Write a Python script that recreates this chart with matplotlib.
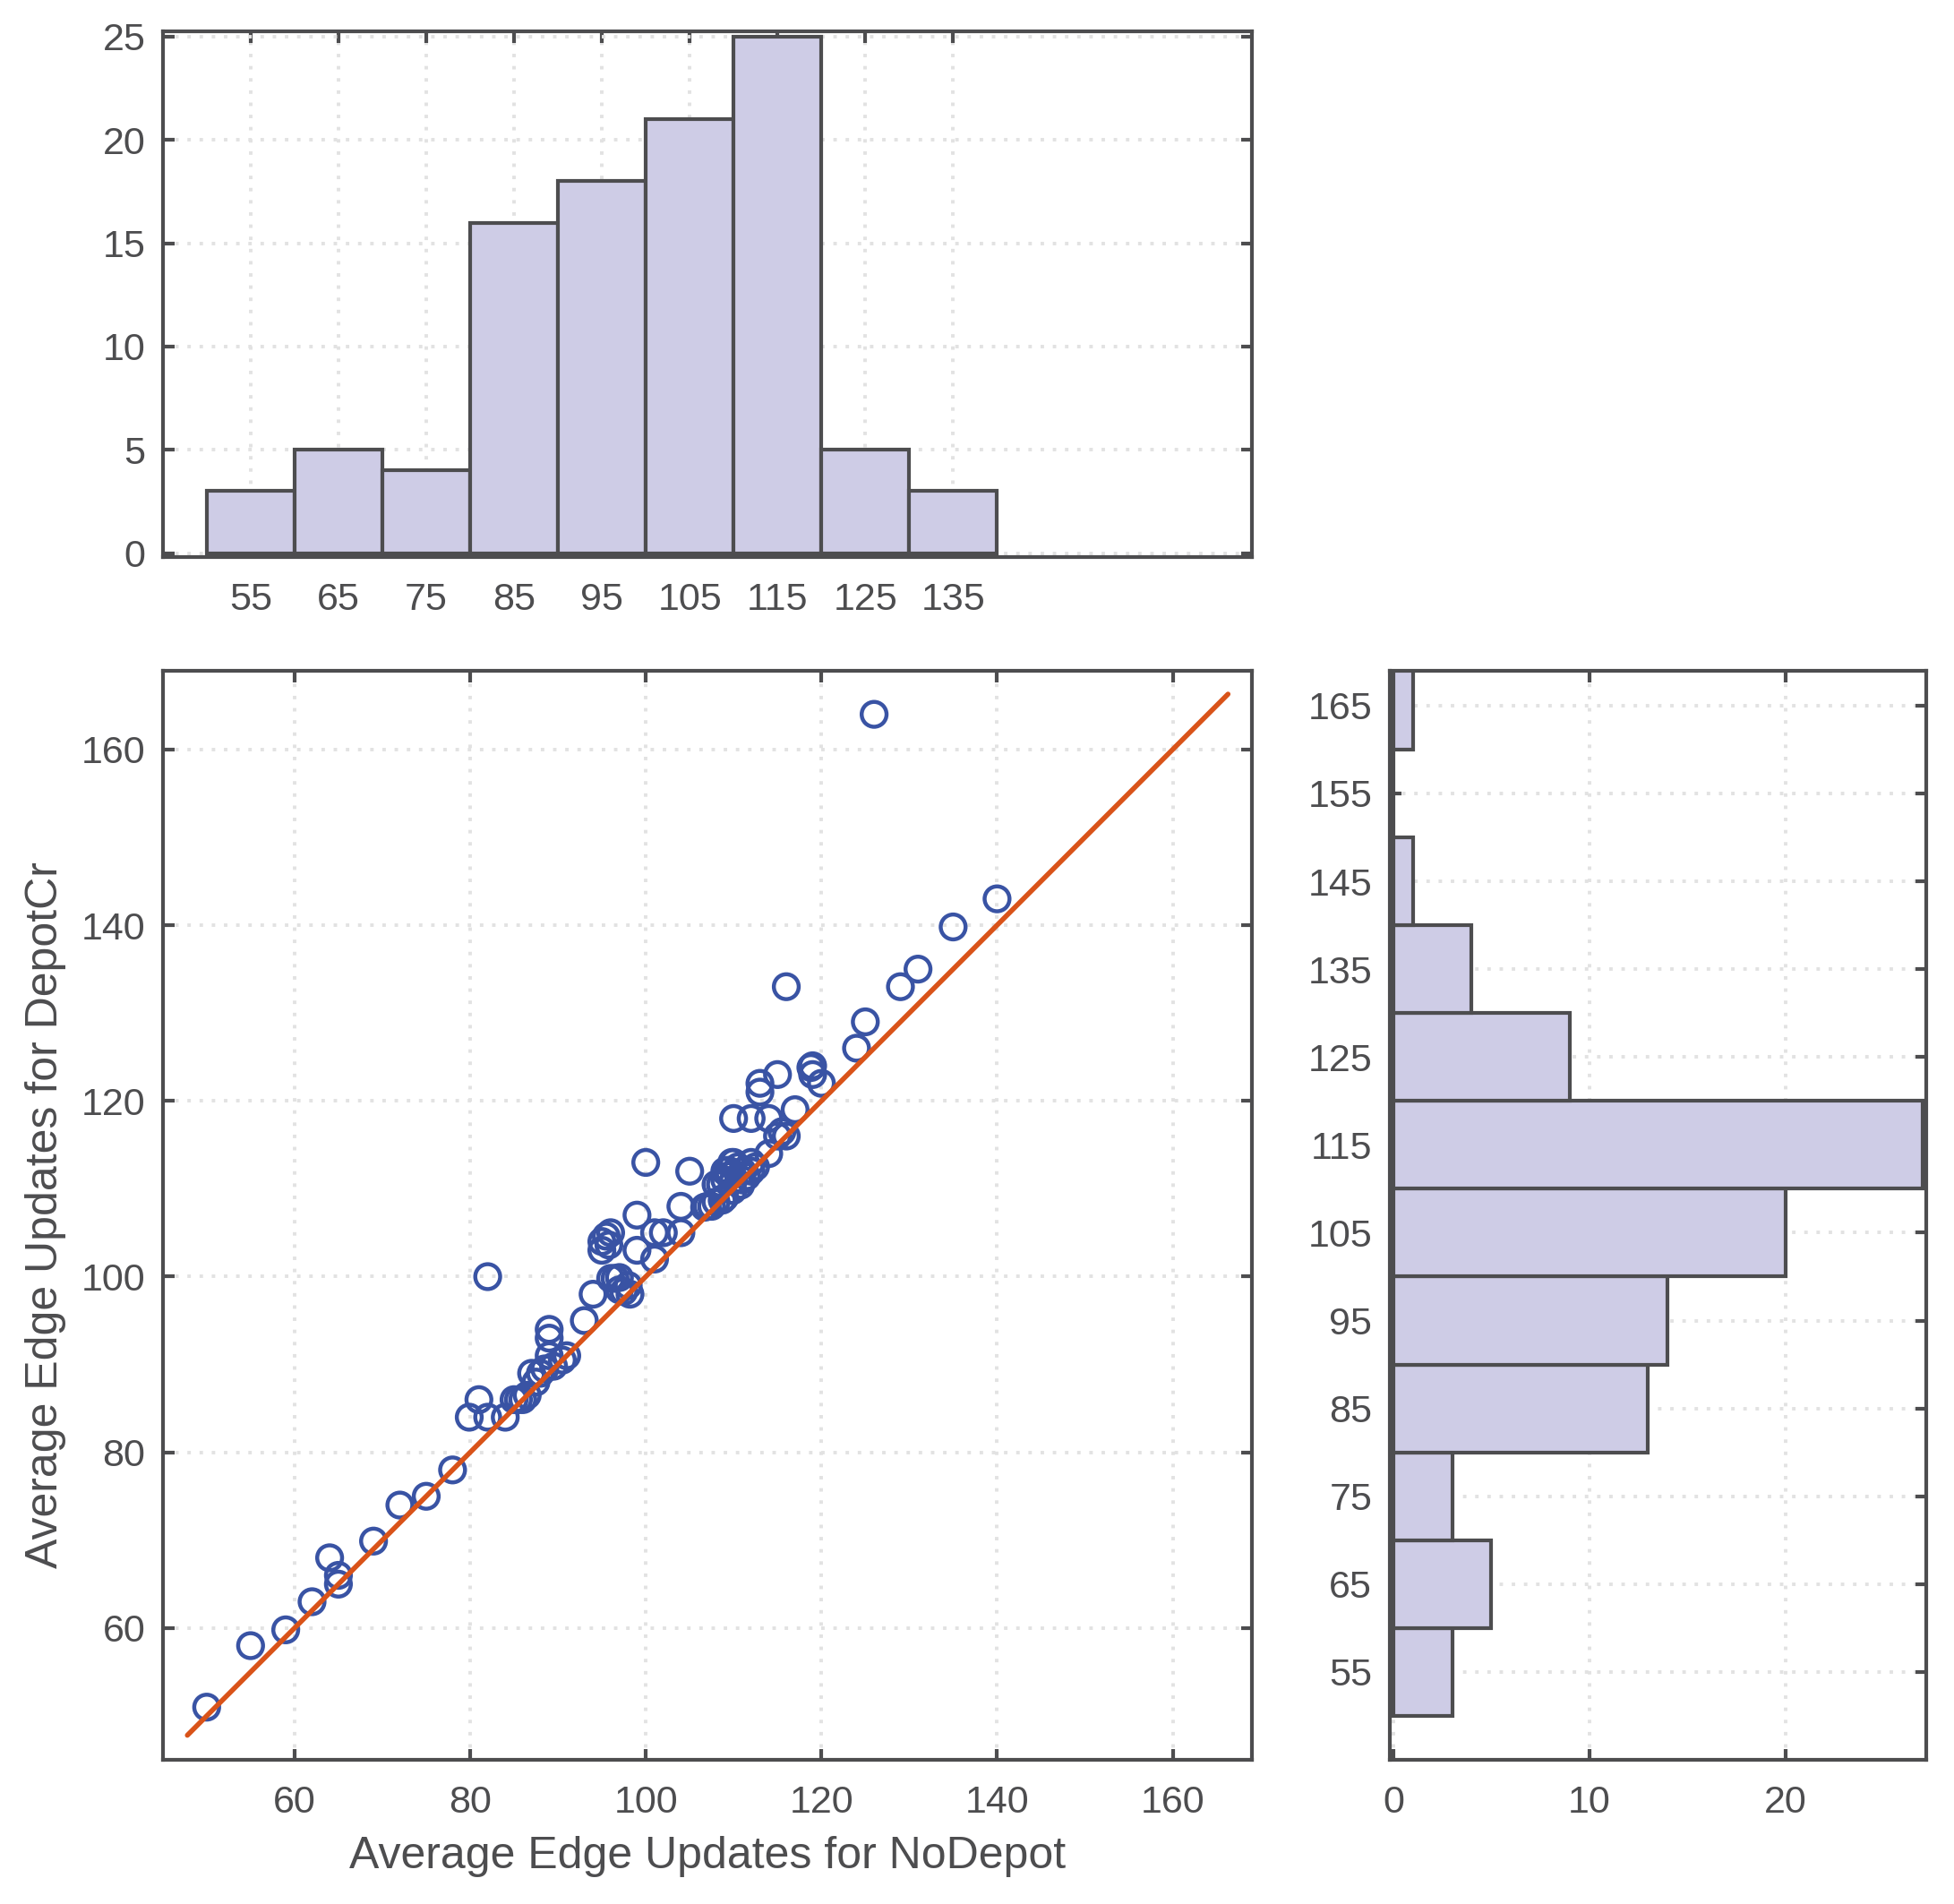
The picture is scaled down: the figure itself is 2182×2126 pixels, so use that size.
import numpy as np
import matplotlib
matplotlib.use('Agg')
import matplotlib.pyplot as plt

# ── data ────────────────────────────────────────────────
nodepot = [50, 55, 59, 62, 64, 65, 65, 69, 72, 75, 78, 79.9,
           81, 82, 82, 84, 85, 86, 86.5, 87, 87.5, 88, 88.5, 89, 89, 89, 89.5, 85.5,
           91, 93, 94, 95, 95, 95.5, 96, 96, 97, 97.5, 98, 98.2, 99, 99, 96.5, 90.5, 95.8, 97,
           100, 101, 101, 102, 104, 104, 105, 107, 107.5, 108, 108.7, 109, 109.4, 109, 108.5,
           109, 106.7, 109.9, 109.5, 108, 109.8,
           110, 110, 110, 111.5, 110.8, 111, 112, 112, 112.5, 113, 113, 114, 114, 115, 116,
           115, 116, 117, 119, 119, 115.5, 118.8, 111, 112, 110.5,
           120, 124, 125, 126, 129, 131, 135, 140]
depotcr = [51, 58, 59.8, 63, 68, 66, 65, 69.9, 74, 75, 78, 84,
           86, 84, 100, 84, 86, 86, 86.5, 89, 88, 89, 89.5, 94, 93, 91, 89.8, 86,
           91, 95, 98, 104, 103, 104.6, 105, 99.8, 99.9, 98.3, 99, 98, 107, 103, 99.8, 90.5, 103.6, 98.5,
           113, 105, 102, 105, 108, 105, 112, 108, 108, 108.5, 108.7, 112, 112.1, 109, 110.5,
           111, 107.9, 109.8, 111.5, 110.5, 113,
           118, 113, 111, 111.4, 110.4, 112, 118, 113, 112.5, 121, 122, 118, 114, 116, 116,
           123, 133, 119, 124, 123, 116.5, 123.8, 111, 112, 112.5,
           122, 126, 129, 164, 133, 135, 139.8, 143]

x_edges = [50, 60, 70, 80, 90, 100, 110, 120, 130, 140]
y_edges = [50, 60, 70, 80, 90, 100, 110, 120, 130, 140, 150, 160, 170]
x_ticks_hist = [55, 65, 75, 85, 95, 105, 115, 125, 135]
y_ticks_hist = [55, 65, 75, 85, 95, 105, 115, 125, 135, 145, 155, 165]
fit_ends = [47.8, 166.3]

# ── style ──────────────────────────────────────────────
DARK = '#4d4d4f'
BAR = '#cecce6'
BLUE = '#3953a4'
RED = '#d95319'
plt.rcParams['font.family'] = ['Liberation Sans', 'DejaVu Sans']
plt.rcParams['text.color'] = DARK
plt.rcParams['axes.labelcolor'] = DARK


def style(ax):
    for s in ax.spines.values():
        s.set_color(DARK)
        s.set_linewidth(1.5)
    ax.tick_params(direction='in', length=4.5, width=1.5, color=DARK,
                   labelcolor=DARK, labelsize=15.5, top=True, right=True)
    ax.tick_params(axis='x', pad=10)
    ax.tick_params(axis='y', pad=7)
    ax.grid(True, linestyle=(0, (1, 2.5)), color='#e2e2e2', linewidth=1.4)
    ax.set_axisbelow(True)


fig = plt.figure(figsize=(10.91, 10.63), dpi=200)
ax_top = fig.add_axes([0.0833, 0.7074, 0.5573, 0.2761])
ax_sc = fig.add_axes([0.0833, 0.0757, 0.5573, 0.5722])
ax_rt = fig.add_axes([0.7111, 0.0757, 0.2747, 0.5722])

# top histogram
ax_top.hist(nodepot, bins=x_edges, color=BAR, edgecolor=DARK, linewidth=1.5)
ax_top.set_xlim(45, 169)
ax_top.set_ylim(-0.19, 25.25)
ax_top.set_xticks(x_ticks_hist)
ax_top.set_yticks([0, 5, 10, 15, 20, 25])
style(ax_top)

# scatter
ax_sc.scatter(nodepot, depotcr, s=100, facecolors='none', edgecolors=BLUE,
              linewidths=1.6, zorder=3)
ax_sc.plot(fit_ends, fit_ends, color=RED, linewidth=2.0, zorder=4,
           solid_capstyle='round')
ax_sc.set_xlim(45, 169)
ax_sc.set_ylim(45, 169)
ax_sc.set_xticks([60, 80, 100, 120, 140, 160])
ax_sc.set_yticks([60, 80, 100, 120, 140, 160])
ax_sc.set_xlabel('Average Edge Updates for NoDepot', fontsize=18, labelpad=6)
ax_sc.set_ylabel('Average Edge Updates for DepotCr', fontsize=18, labelpad=6)
style(ax_sc)

# right histogram
ax_rt.hist(depotcr, bins=y_edges, orientation='horizontal', color=BAR,
           edgecolor=DARK, linewidth=1.5)
ax_rt.set_ylim(45, 169)
ax_rt.set_xlim(-0.2, 27.2)
ax_rt.set_yticks(y_ticks_hist)
ax_rt.set_xticks([0, 10, 20])
style(ax_rt)

fig.savefig('out.png', dpi=200)
